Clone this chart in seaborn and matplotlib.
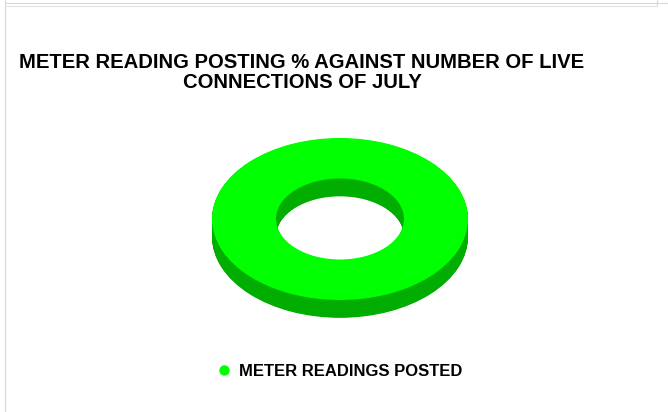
import matplotlib.pyplot as plt
import seaborn as sns
from matplotlib.lines import Line2D

sns.set_style("white")
plt.rcParams['font.family'] = ['Liberation Sans', 'DejaVu Sans']
plt.rcParams['text.color'] = 'black'

# data
labels = ["METER READINGS POSTED"]
values = [100]
title = "METER READING POSTING % AGAINST NUMBER OF LIVE\nCONNECTIONS OF JULY"

top_color = "#00FF00"
side_color = "#00AD00"

fig = plt.figure(figsize=(6.68, 4.12), dpi=100)

# thin sheet borders like the spreadsheet export
fig.add_artist(Line2D([5/668, 5/668], [0, 1], color="#d9d9d9", lw=0.8))
fig.add_artist(Line2D([5/668, 1], [1 - 2.5/412, 1 - 2.5/412], color="#d9d9d9", lw=0.8))
fig.add_artist(Line2D([5/668, 657/668], [1 - 5.5/412, 1 - 5.5/412], color="#e3e3e3", lw=0.8))
fig.add_artist(Line2D([657/668, 657/668], [1 - 5.5/412, 1], color="#d9d9d9", lw=0.8))

# donut axes: outer rx 128px, ry 81px, centre at (340, 219)
ax = fig.add_axes([180/668, 71.5/412, 320/668, 243/412])

depth = 0.22
n_layers = 30
for i in range(n_layers, 0, -1):
    off = depth * i / n_layers
    ax.pie(values, colors=[side_color], center=(0, -off), startangle=90,
           wedgeprops=dict(width=0.5, linewidth=0))
ax.pie(values, colors=[top_color], startangle=90,
       wedgeprops=dict(width=0.5, linewidth=0))
ax.set_aspect('auto')
ax.set_xlim(-1.25, 1.25)
ax.set_ylim(-1.5, 1.5)
ax.axis('off')

fig.text(302/668, 1 - 53/412, title, ha='center', va='top', fontsize=14.6,
         fontweight='bold', linespacing=1.1, color='black')

handle = Line2D([], [], marker='o', color=top_color, linestyle='none', markersize=6.5)
fig.legend([handle], labels, loc='center', bbox_to_anchor=(339/668, 1 - 371/412),
           frameon=False, handletextpad=0.4, handlelength=1.0,
           prop=dict(size=12, weight='bold'), labelcolor='black')

fig.savefig("out.png", dpi=100)
